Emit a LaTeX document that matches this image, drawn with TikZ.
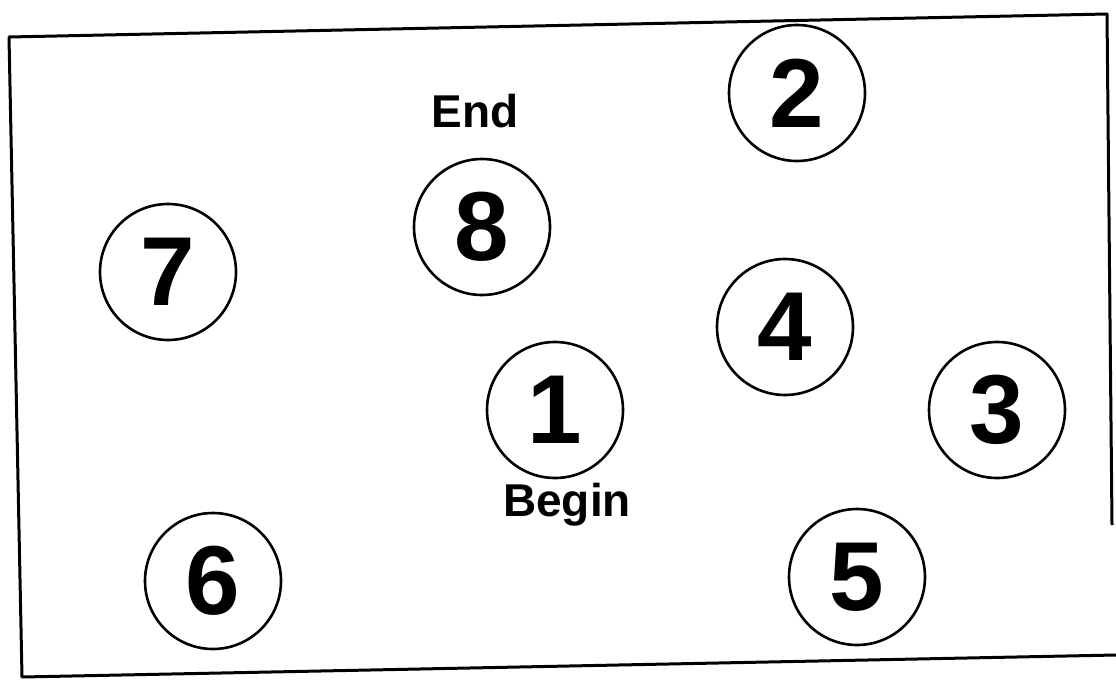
\documentclass[tikz,border=0pt]{standalone}
\usepackage{fontspec}
\setmainfont{Liberation Sans}
\usetikzlibrary{positioning}
\tikzset{
  spot/.style  = {draw, circle, line width=2.6pt, minimum size=136pt, inner sep=0pt,
                  font=\fontsize{98}{98}\selectfont\bfseries},
  tag/.style   = {inner sep=0pt, font=\fontsize{46}{46}\selectfont\bfseries},
  frame/.style = {line width=3pt, line join=round}
}
\begin{document}
\begin{tikzpicture}[x=1pt, y=-1pt]
  \useasboundingbox (0,0) rectangle (1116,680);
  % scanned frame, slightly skewed
  \draw[frame] (1112,525) -- (1107,14) -- (9,37) -- (22,677) -- (1116,655);
  % points of the tour
  \node[spot] (c1) at (555,410) {1};
  \node[spot] (c2) at (797,93)  {2};
  \node[spot] (c3) at (997,410) {3};
  \node[spot] (c4) at (785,327) {4};
  \node[spot] (c5) at (857,577) {5};
  \node[spot] (c6) at (213,581) {6};
  \node[spot] (c7) at (168,272) {7};
  \node[spot] (c8) at (482,227) {8};
  \node[tag, above=30pt of c8, xshift=-7pt] (end) {End};
  \node[tag, below=4pt of c1, xshift=12pt] (begin) {Begin};
\end{tikzpicture}
\end{document}
